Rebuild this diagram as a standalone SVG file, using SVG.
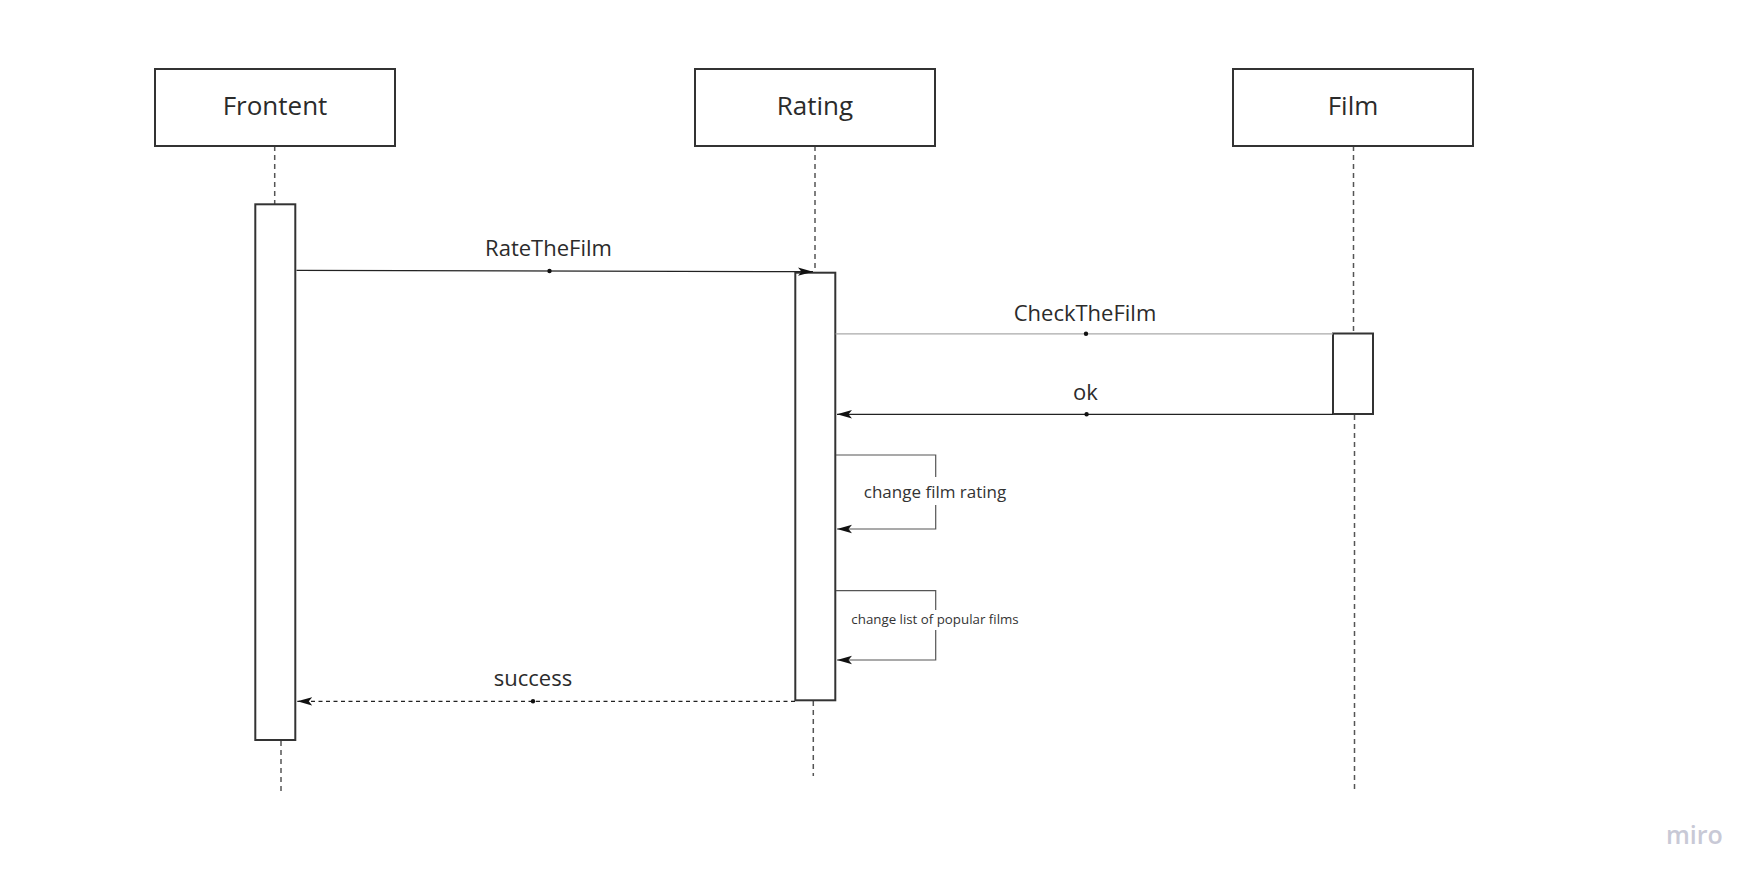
<svg xmlns="http://www.w3.org/2000/svg" width="1762" height="886" viewBox="0 0 1762 886">
  <defs>
    <style>
      .head { fill: #ffffff; stroke: #333333; stroke-width: 2; }
      .act { fill: #ffffff; stroke: #333333; stroke-width: 2; }
      .life { stroke: #555555; stroke-width: 1.5; stroke-dasharray: 5 4; fill: none; }
      .msg { stroke: #222222; stroke-width: 1.2; fill: none; }
      .msgLight { stroke: #aaaaaa; stroke-width: 1.2; fill: none; }
      .ret { stroke: #222222; stroke-width: 1.2; fill: none; stroke-dasharray: 4 3.5; }
      .self { stroke: #555555; stroke-width: 1.2; fill: none; }
      .dot { fill: #111111; }
      .title { font-family: "Open Sans", "Liberation Sans", sans-serif; font-size: 26px; fill: #2b2b2b; text-anchor: middle; }
      .lbl { font-family: "Open Sans", "Liberation Sans", sans-serif; font-size: 22px; fill: #2b2b2b; text-anchor: middle; }
      .small { font-family: "Open Sans", "Liberation Sans", sans-serif; font-size: 17px; fill: #333333; text-anchor: middle; }
      .tiny { font-family: "Open Sans", "Liberation Sans", sans-serif; font-size: 13.3px; fill: #333333; text-anchor: middle; }
      .miro { font-family: "Open Sans", "Liberation Sans", sans-serif; font-size: 25px; font-weight: 600; fill: #c8c9d6; }
    </style>
    <marker id="arrow" viewBox="0 0 15 10" refX="15" refY="5" markerWidth="15" markerHeight="10" markerUnits="userSpaceOnUse" orient="auto">
      <path d="M0,0.8 L15,5 L0,9.2 L3.5,5 Z" fill="#111111"/>
    </marker>
  </defs>
  <rect x="0" y="0" width="1762" height="886" fill="#ffffff"/>

  <g id="lifelines">
    <line class="life" x1="274.7" y1="146" x2="274.7" y2="204"/>
    <line class="life" x1="281" y1="741" x2="281" y2="792"/>
    <line class="life" x1="815" y1="146" x2="815" y2="272"/>
    <line class="life" x1="813.3" y1="701" x2="813.3" y2="776"/>
    <line class="life" x1="1353.5" y1="146" x2="1353.5" y2="333"/>
    <line class="life" x1="1354.5" y1="415" x2="1354.5" y2="791"/>
  </g>

  <g id="frontent">
    <rect class="head" x="155" y="69" width="240" height="77"/>
    <text class="title" x="275" y="115">Frontent</text>
  </g>
  <g id="rating">
    <rect class="head" x="695" y="69" width="240" height="77"/>
    <text class="title" x="815" y="115">Rating</text>
  </g>
  <g id="film">
    <rect class="head" x="1233" y="69" width="240" height="77"/>
    <text class="title" x="1353" y="115">Film</text>
  </g>

  <g id="frontent-activation">
    <rect class="act" x="255.3" y="204.3" width="40" height="535.7"/>
  </g>
  <g id="rating-activation">
    <rect class="act" x="795.3" y="272.7" width="40" height="427.6"/>
  </g>
  <g id="film-activation">
    <rect class="act" x="1333" y="333.5" width="40" height="80.5"/>
  </g>

  <g id="connectors">
    <path class="msg" d="M296.5,270.3 L813,271.7" marker-end="url(#arrow)"/>
    <circle class="dot" cx="549.5" cy="271" r="2.2"/>
    <path class="msgLight" d="M835.6,333.8 L1333,333.8"/>
    <circle class="dot" cx="1086" cy="333.8" r="2.2"/>
    <path class="msg" d="M1333,414.3 L837,414.3" marker-end="url(#arrow)"/>
    <circle class="dot" cx="1086.6" cy="414.3" r="2.2"/>
    <path class="self" d="M836,455 L935.7,455 L935.7,529 L837,529" marker-end="url(#arrow)"/>
    <path class="self" d="M836,590.7 L935.7,590.7 L935.7,660 L837,660" marker-end="url(#arrow)"/>
    <path class="ret" d="M795,701.3 L297.3,701.3" marker-end="url(#arrow)"/>
    <circle class="dot" cx="533" cy="701.3" r="2.2"/>
  </g>

  <g id="labels">
    <text class="lbl" x="548.5" y="256">RateTheFilm</text>
    <text class="lbl" x="1085" y="320.5">CheckTheFilm</text>
    <text class="lbl" x="1085.5" y="400">ok</text>
    <rect x="860" y="477" width="150" height="28" fill="#ffffff"/>
    <text class="small" x="935" y="497.5">change film rating</text>
    <rect x="850" y="610" width="170" height="20" fill="#ffffff"/>
    <text class="tiny" x="935" y="624">change list of popular films</text>
    <text class="lbl" x="533" y="685.7">success</text>
  </g>

  <text class="miro" x="1666" y="844">miro</text>
</svg>
